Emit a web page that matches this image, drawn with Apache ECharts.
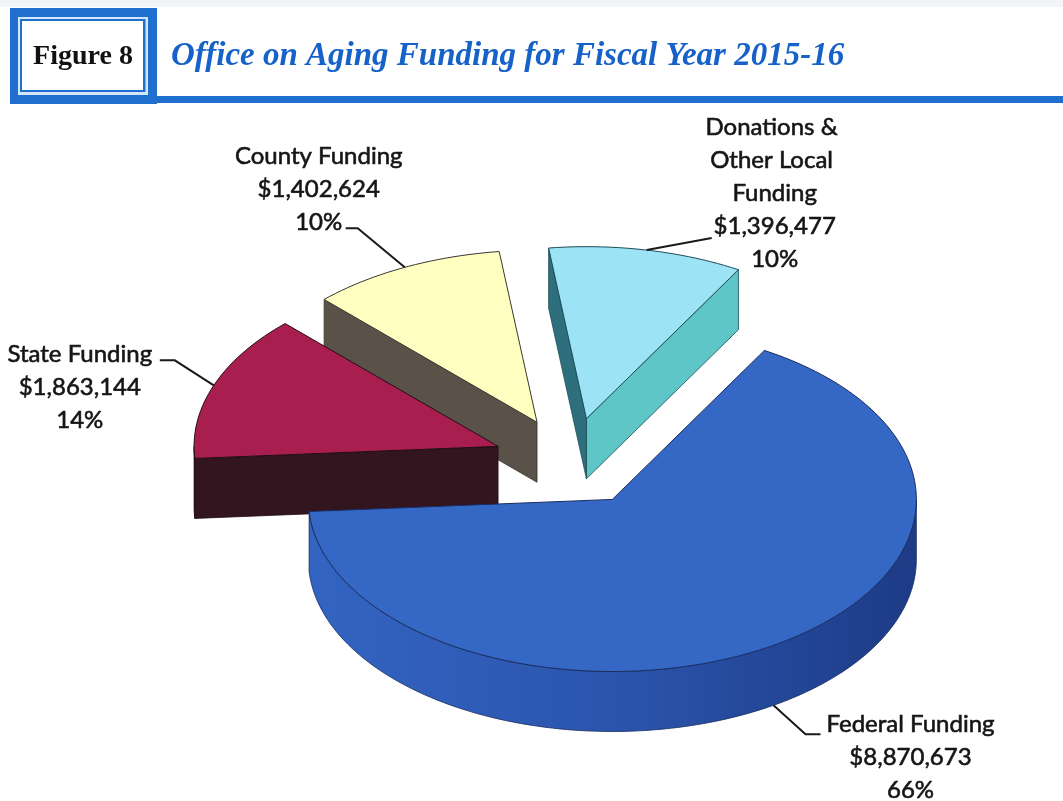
<!DOCTYPE html>
<html>
<head>
<meta charset="utf-8">
<title>Office on Aging Funding for Fiscal Year 2015-16</title>
<script src="https://cdn.jsdelivr.net/npm/echarts@6/dist/echarts.min.js"></script>
<style>
  html, body { margin: 0; padding: 0; background: #ffffff; }
  #chart { width: 1063px; height: 801px; }
</style>
</head>
<body>
<div id="chart"></div>
<script>
// ---- data ----
const categories = ['Federal Funding', 'State Funding', 'County Funding', 'Donations & Other Local Funding'];
const amounts = [8870673, 1863144, 1402624, 1396477];
const figureLabel = 'Figure 8';
const titleText = 'Office on Aging Funding for Fiscal Year 2015-16';

// ---- 3D pie geometry (pixels) ----
const geo = { cx: 571, cy: 462, rx: 304, k: 0.566, depth: 60, explode: 78, startAngle: 60 };
const RAD = Math.PI / 180;

// per-slice shading: top face, rim wall, cut faces, outline
const shades = [
  { top: '#3568c4', wall: ['#3364c2', '#2b55ad', '#1d3b86'], startFace: '#24478f', endFace: '#24478f', edge: '#1a2d62' },
  { top: '#a81f4f', wall: ['#35161f'], startFace: '#3a1a25', endFace: '#32151f', edge: '#230d15' },
  { top: '#ffffc2', wall: ['#5b534a'], startFace: '#5b534a', endFace: '#5a5249', edge: '#3a3630' },
  { top: '#9ce3f6', wall: ['#3a8f9c'], startFace: '#5fc6c8', endFace: '#2d6f7c', edge: '#1d4c58' }
];

// label placement relative to the rim anchor at each slice's mid angle
const labelLayout = [
  { text: [137, 52], elbow: [32, 29], end: [47, 29], wrap: 260 },
  { text: [-134, 2], elbow: [-39, -25], end: [-54, -25], wrap: 260 },
  { text: [-86, -78], elbow: [-47, -39], end: [-59, -39], wrap: 260 },
  { text: [128, -57], elbow: [65, -12], end: [65, -12], wrap: 150 }
];

const total = amounts.reduce((s, v) => s + v, 0);

// slices run clockwise from the start angle; stored as ccw spans [a, b]
const spans = [];
(function () {
  let acc = geo.startAngle;
  amounts.forEach(v => {
    const sweep = v / total * 360;
    let a = acc - sweep, b = acc;
    while (a <= -180) { a += 360; b += 360; }
    spans.push({ a, b });
    acc -= sweep;
  });
})();

function sliceOrigin(i) {
  const m = (spans[i].a + spans[i].b) / 2 * RAD;
  return [geo.cx + geo.explode * Math.cos(m), geo.cy - geo.explode * geo.k * Math.sin(m)];
}

// back-to-front drawing order by the y of each slice's middle
const depthRank = (function () {
  const keys = spans.map((s, i) => {
    const o = sliceOrigin(i);
    const m = (s.a + s.b) / 2 * RAD;
    return { i, y: o[1] - 0.5 * geo.rx * geo.k * Math.sin(m) };
  }).sort((p, q) => p.y - q.y);
  const r = [];
  keys.forEach((kk, n) => { r[kk.i] = n + 1; });
  return r;
})();

function pt(o, deg, z) {
  const t = deg * RAD;
  return [o[0] + geo.rx * Math.cos(t), o[1] - geo.rx * geo.k * Math.sin(t) + z];
}
function arc(o, a, b, z) {
  const n = Math.max(2, Math.ceil(Math.abs(b - a) / 1.5));
  const pts = [];
  for (let j = 0; j <= n; j++) pts.push(pt(o, a + (b - a) * j / n, z));
  return pts;
}
function wallFill(cols) {
  if (cols.length === 1) return cols[0];
  return new echarts.graphic.LinearGradient(0, 0, 1, 0,
    cols.map((c, n) => ({ offset: n / (cols.length - 1), color: c })));
}
function cutFace(o, deg, fill, z2, edge) {
  const p = pt(o, deg, 0);
  return {
    type: 'polygon', z2,
    shape: { points: [o, p, [p[0], p[1] + geo.depth], [o[0], o[1] + geo.depth]] },
    style: { fill, stroke: edge, lineWidth: 0.8 }
  };
}
function money(v) { return '$' + v.toLocaleString('en-US'); }

function renderSlice(params, api) {
  const i = params.dataIndex;
  const value = api.value(0);
  const s = spans[i];
  const c = shades[i];
  const o = sliceOrigin(i);
  const base = depthRank[i] * 10;
  const children = [];

  // visible (front) part of the outer rim
  [[-180, 0], [180, 360]].forEach(([f0, f1]) => {
    const s0 = Math.max(s.a, f0), s1 = Math.min(s.b, f1);
    if (s1 > s0) {
      children.push({
        type: 'polygon', z2: base + 1,
        shape: { points: arc(o, s0, s1, 0).concat(arc(o, s1, s0, geo.depth)) },
        style: { fill: wallFill(c.wall), stroke: c.edge, lineWidth: 0.8 }
      });
    }
  });
  // radial cut faces that turn toward the viewer
  if (Math.cos(s.a * RAD) > 0) children.push(cutFace(o, s.a, c.startFace, base + 2, c.edge));
  if (Math.cos(s.b * RAD) < 0) children.push(cutFace(o, s.b, c.endFace, base + 2, c.edge));
  // top face
  children.push({
    type: 'polygon', z2: base + 5,
    shape: { points: [o].concat(arc(o, s.a, s.b, 0)) },
    style: { fill: c.top, stroke: c.edge, lineWidth: 1 }
  });

  // leader line and label
  const m = (s.a + s.b) / 2;
  const anchor = pt(o, m, Math.sin(m * RAD) < 0 ? geo.depth : 0);
  const L = labelLayout[i];
  children.push({
    type: 'polyline', z2: 90,
    shape: { points: [anchor, [anchor[0] + L.elbow[0], anchor[1] + L.elbow[1]], [anchor[0] + L.end[0], anchor[1] + L.end[1]]] },
    style: { stroke: '#1a1a1a', lineWidth: 2, fill: null }
  });
  const pct = Math.round(value / total * 100) + '%';
  children.push({
    type: 'text', z2: 95,
    style: {
      text: categories[i] + '\n' + money(value) + '\n' + pct,
      x: anchor[0] + L.text[0], y: anchor[1] + L.text[1],
      width: L.wrap, overflow: 'break',
      align: 'center', verticalAlign: 'middle',
      fontFamily: 'Lato', fontSize: 24, lineHeight: 33,
      fill: '#151515', stroke: '#151515', lineWidth: 0.6
    }
  });
  return { type: 'group', children };
}

const chart = echarts.init(document.getElementById('chart'), null, { renderer: 'canvas' });
chart.setOption({
  animation: false,
  backgroundColor: '#ffffff',
  graphic: [
    { type: 'rect', shape: { x: 0, y: 0, width: 1063, height: 7 }, style: { fill: '#f3f4f5' } },
    { type: 'rect', shape: { x: 10, y: 8, width: 147, height: 96 }, style: { fill: '#1f6fcf' } },
    { type: 'rect', shape: { x: 18, y: 17, width: 130, height: 78 }, style: { fill: '#d4e6f8' } },
    { type: 'rect', shape: { x: 20, y: 19, width: 125.5, height: 73 }, style: { fill: '#1f6fcf' } },
    { type: 'rect', shape: { x: 22, y: 21, width: 121, height: 69 }, style: { fill: '#ffffff' } },
    { type: 'rect', shape: { x: 157, y: 96, width: 906, height: 7 }, style: { fill: '#1f6fcf' } },
    {
      type: 'text', style: {
        text: figureLabel, x: 83, y: 57, align: 'center', verticalAlign: 'middle',
        fontFamily: 'Liberation Serif', fontWeight: 'bold', fontSize: 28, fill: '#111111'
      }
    },
    {
      type: 'text', style: {
        text: titleText, x: 171, y: 56, align: 'left', verticalAlign: 'middle',
        fontFamily: 'Liberation Serif', fontWeight: 'bold', fontStyle: 'italic', fontSize: 33, fill: '#1662c9'
      }
    }
  ],
  series: [{
    type: 'custom',
    coordinateSystem: 'none',
    renderItem: renderSlice,
    data: amounts.map((v, i) => ({ name: categories[i], value: [v] }))
  }]
});
</script>
</body>
</html>
